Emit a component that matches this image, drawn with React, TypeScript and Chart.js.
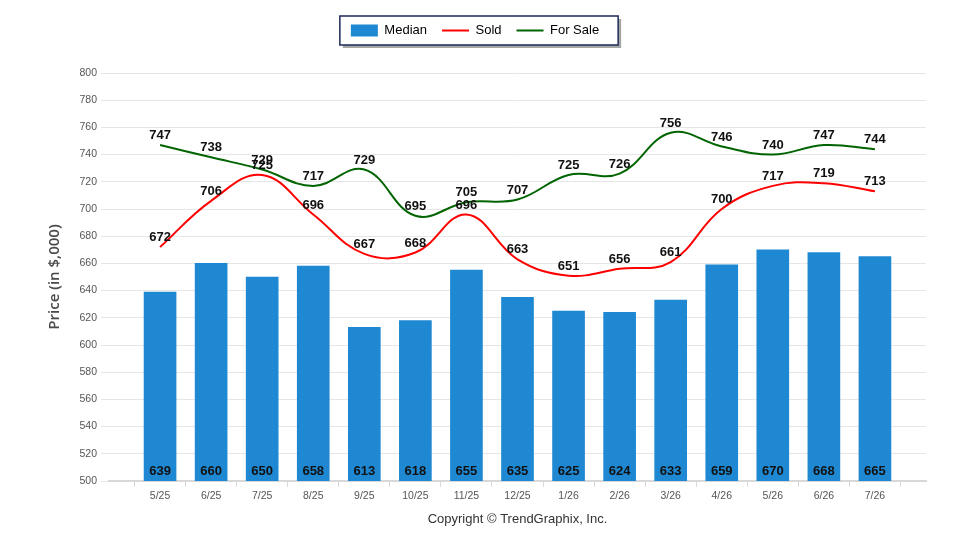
import { useEffect, useRef } from "react"
import { Chart, registerables } from "chart.js"

Chart.register(...registerables)

const months = ["5/25", "6/25", "7/25", "8/25", "9/25", "10/25", "11/25", "12/25", "1/26", "2/26", "3/26", "4/26", "5/26", "6/26", "7/26"]
const median = [639, 660, 650, 658, 613, 618, 655, 635, 625, 624, 633, 659, 670, 668, 665]
const sold = [672, 706, 725, 696, 667, 668, 696, 663, 651, 656, 661, 700, 717, 719, 713]
const forSale = [747, 738, 729, 717, 729, 695, 705, 707, 725, 726, 756, 746, 740, 747, 744]

const yMin = 500
const yMax = 800
const yStep = 20

const BAR_COLOR = "#1E88D2"
const SOLD_COLOR = "#FF0000"
const SALE_COLOR = "#006400"
const FONT = "'Liberation Sans', Arial, sans-serif"

// empty slot at each end, the axis runs one step past the first and last month
const pad = (arr: number[]) => [null, ...arr, null]
const labels = ["", ...months, ""]

// legend gets extra room below it and a framed box
const legendFrame = {
  id: "legendFrame",
  beforeLayout(chart: any) {
    const legend = chart.legend
    if (!legend || legend._framed) return
    const fit = legend.fit.bind(legend)
    legend.fit = () => {
      fit()
      legend.height += 26
    }
    legend._framed = true
  },
  afterLayout(chart: any) {
    const legend = chart.legend
    if (!legend) return
    legend.left = 0
    legend.right = 950
    legend.width = 950
  },
  beforeDraw(chart: any) {
    const legend = chart.legend
    if (!legend || !legend.legendHitBoxes?.length) return
    const boxes = legend.legendHitBoxes
    const left = Math.min(...boxes.map((b: any) => b.left)) - 11
    const right = Math.max(...boxes.map((b: any) => b.left + b.width)) + 19
    const top = boxes[0].top - 8
    const bottom = boxes[0].top + boxes[0].height + 8
    const ctx = chart.ctx
    ctx.save()
    ctx.fillStyle = "rgba(0,0,0,0.35)"
    ctx.fillRect(left + 3, top + 3, right - left, bottom - top)
    ctx.fillStyle = "#fff"
    ctx.fillRect(left, top, right - left, bottom - top)
    ctx.strokeStyle = "#1c2a56"
    ctx.lineWidth = 1.5
    ctx.strokeRect(left, top, right - left, bottom - top)
    ctx.restore()
  },
}

const valueLabels = {
  id: "valueLabels",
  afterDatasetsDraw(chart: any) {
    const ctx = chart.ctx
    const bottom = chart.chartArea.bottom
    ctx.save()
    ctx.font = `bold 13px ${FONT}`
    ctx.fillStyle = "#111"
    ctx.textAlign = "center"
    ctx.textBaseline = "bottom"
    chart.data.datasets.forEach((ds: any, i: number) => {
      const meta = chart.getDatasetMeta(i)
      meta.data.forEach((el: any, j: number) => {
        const v = ds.data[j]
        if (v == null) return
        if (ds.type === "bar") ctx.fillText(String(v), el.x, bottom - 3)
        else ctx.fillText(String(v), el.x, el.y - 3)
      })
    })
    ctx.restore()
  },
}

export default function App() {
  const chartRef = useRef<HTMLCanvasElement>(null)
  const chartInstance = useRef<Chart | null>(null)

  useEffect(() => {
    document.body.style.margin = "0"
    if (!chartRef.current) return
    if (chartInstance.current) chartInstance.current.destroy()
    const ctx = chartRef.current.getContext("2d")
    if (!ctx) return

    Chart.defaults.font.family = FONT

    chartInstance.current = new Chart(ctx, {
      type: "bar",
      data: {
        labels,
        datasets: [
          {
            type: "bar",
            label: "Median",
            data: pad(median),
            backgroundColor: BAR_COLOR,
            barThickness: 32,
            order: 3,
          },
          {
            type: "line",
            label: "Sold",
            data: pad(sold),
            borderColor: SOLD_COLOR,
            backgroundColor: SOLD_COLOR,
            borderWidth: 2,
            pointRadius: 0,
            tension: 0.4,
            order: 2,
          },
          {
            type: "line",
            label: "For Sale",
            data: pad(forSale),
            borderColor: SALE_COLOR,
            backgroundColor: SALE_COLOR,
            borderWidth: 2,
            pointRadius: 0,
            tension: 0.4,
            order: 1,
          },
        ] as any,
      },
      options: {
        responsive: false,
        animation: false,
        events: [],
        layout: { padding: { top: 9, right: 34, left: 0, bottom: 0 } },
        plugins: {
          tooltip: { enabled: false },
          legend: {
            position: "top",
            labels: {
              usePointStyle: true,
              pointStyleWidth: 27,
              boxHeight: 12,
              padding: 15,
              color: "#222",
              font: { size: 13 },
              generateLabels: () => [
                { text: "Median", fillStyle: BAR_COLOR, strokeStyle: BAR_COLOR, lineWidth: 0, pointStyle: "rect", datasetIndex: 0, hidden: false },
                { text: "Sold", fillStyle: SOLD_COLOR, strokeStyle: SOLD_COLOR, lineWidth: 2, pointStyle: "line", datasetIndex: 1, hidden: false },
                { text: "For Sale", fillStyle: SALE_COLOR, strokeStyle: SALE_COLOR, lineWidth: 2, pointStyle: "line", datasetIndex: 2, hidden: false },
              ] as any,
            },
          },
        },
        scales: {
          x: {
            offset: false,
            grid: { drawOnChartArea: false, tickLength: 6, color: "#d8d8d8" },
            border: { color: "#d8d8d8", width: 2 },
            ticks: { color: "#555", font: { size: 10.5 }, padding: 3, maxRotation: 0, autoSkip: false },
            title: {
              display: true,
              text: "Copyright © TrendGraphix, Inc.",
              color: "#333",
              font: { size: 13 },
              padding: { top: 0, bottom: 23 },
            },
            afterFit: (s: any) => {
              s.height = 69
            },
          },
          y: {
            min: yMin,
            max: yMax,
            ticks: { stepSize: yStep, color: "#555", font: { size: 10.5 }, padding: 4 },
            grid: { color: "#e6e6e6", tickLength: 8, tickColor: "#e6e6e6" },
            border: { display: false },
            title: {
              display: true,
              text: "Price (in $,000)",
              color: "#4a4a4a",
              font: { family: "'Open Sans', sans-serif", size: 15, weight: "600" },
              padding: { top: 46, bottom: 0 },
            },
            afterFit: (s: any) => {
              s.width = 109
            },
          },
        },
      },
      plugins: [legendFrame, valueLabels],
    })

    return () => {
      if (chartInstance.current) {
        chartInstance.current.destroy()
        chartInstance.current = null
      }
    }
  }, [])

  return (
    <div style={{ width: 960, height: 550 }}>
      <canvas ref={chartRef} width={960} height={550} />
    </div>
  )
}
